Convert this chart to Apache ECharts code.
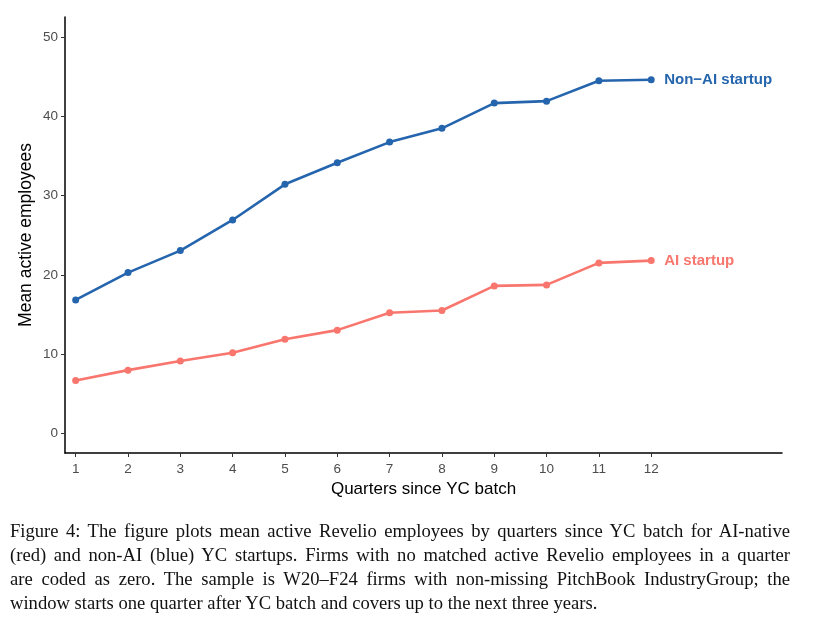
<!DOCTYPE html>
<html>
<head>
<meta charset="utf-8">
<script src="https://cdn.jsdelivr.net/npm/echarts@6.0.0/dist/echarts.min.js"></script>
<style>
  html, body { margin: 0; padding: 0; background: #fff; }
  #chart { position: absolute; left: 0; top: 0; width: 826px; height: 627px; }
  #caption { position: absolute; left: 10px; top: 519px; width: 780px;
    font-family: "Liberation Serif", "DejaVu Serif", serif; font-size: 18.6px; line-height: 24px; color: #111; }
  #caption div { text-align: justify; text-align-last: justify; white-space: nowrap; }
  #caption div.last { text-align-last: left; }
</style>
</head>
<body>
<div id="chart"></div>
<div id="caption">
  <div>Figure 4: The figure plots mean active Revelio employees by quarters since YC batch for AI-native</div>
  <div>(red) and non-AI (blue) YC startups. Firms with no matched active Revelio employees in a quarter</div>
  <div>are coded as zero. The sample is W20–F24 firms with non-missing PitchBook IndustryGroup; the</div>
  <div class="last">window starts one quarter after YC batch and covers up to the next three years.</div>
</div>
<script>
const quarters = [1, 2, 3, 4, 5, 6, 7, 8, 9, 10, 11, 12];
const nonAi = [16.86, 20.3, 23.07, 26.93, 31.42, 34.14, 36.74, 38.47, 41.65, 41.9, 44.46, 44.6];
const ai = [6.71, 8.01, 9.15, 10.19, 11.91, 13.05, 15.23, 15.52, 18.62, 18.75, 21.52, 21.81];
const yTicks = [0, 10, 20, 30, 40, 50];

const BLUE = '#2565ad';
const RED = '#f8766d';

function pairs(vals) {
  return quarters.map((q, i) => [q, vals[i]]);
}

function makeSeries(name, vals, color) {
  return {
    name: name,
    type: 'line',
    data: pairs(vals),
    symbol: 'circle',
    symbolSize: 7,
    lineStyle: { color: color, width: 2.6 },
    itemStyle: { color: color },
    emphasis: { disabled: true },
    endLabel: {
      show: true,
      formatter: name,
      color: color,
      fontWeight: 'bold',
      fontSize: 15,
      fontFamily: 'Liberation Sans, Arial, sans-serif',
      distance: 13
    },
    z: 3
  };
}

let myChart = echarts.init(document.getElementById('chart'));
myChart.setOption({
  animation: false,
  grid: { left: 65, right: 44, top: 17, bottom: 174, containLabel: false },
  xAxis: {
    type: 'value',
    min: 0.796,
    max: 14.5,
    name: 'Quarters since YC batch',
    nameLocation: 'middle',
    nameGap: 28,
    nameMoveOverlap: false,
    nameTextStyle: { fontSize: 17, color: '#000', fontFamily: 'Liberation Sans, Arial, sans-serif' },
    axisLine: { show: true, onZero: false, lineStyle: { color: '#000', width: 1.5 } },
    axisTick: { show: true, length: 4, customValues: quarters, lineStyle: { color: '#333', width: 1 } },
    axisLabel: { customValues: quarters, margin: 9, fontSize: 13.5, color: '#4d4d4d',
      fontFamily: 'Liberation Sans, Arial, sans-serif' },
    splitLine: { show: false }
  },
  yAxis: {
    type: 'value',
    min: -2.43,
    max: 52.5,
    name: 'Mean active employees',
    nameLocation: 'middle',
    nameGap: 30,
    nameMoveOverlap: false,
    nameTextStyle: { fontSize: 17.5, color: '#000', fontFamily: 'Liberation Sans, Arial, sans-serif' },
    axisLine: { show: true, onZero: false, lineStyle: { color: '#000', width: 1.5 } },
    axisTick: { show: true, length: 4, customValues: yTicks, lineStyle: { color: '#333', width: 1 } },
    axisLabel: { customValues: yTicks, margin: 7, fontSize: 13.5, color: '#4d4d4d',
      fontFamily: 'Liberation Sans, Arial, sans-serif' },
    splitLine: { show: false }
  },
  series: [
    makeSeries('Non−AI startup', nonAi, BLUE),
    makeSeries('AI startup', ai, RED)
  ]
});
</script>
</body>
</html>
